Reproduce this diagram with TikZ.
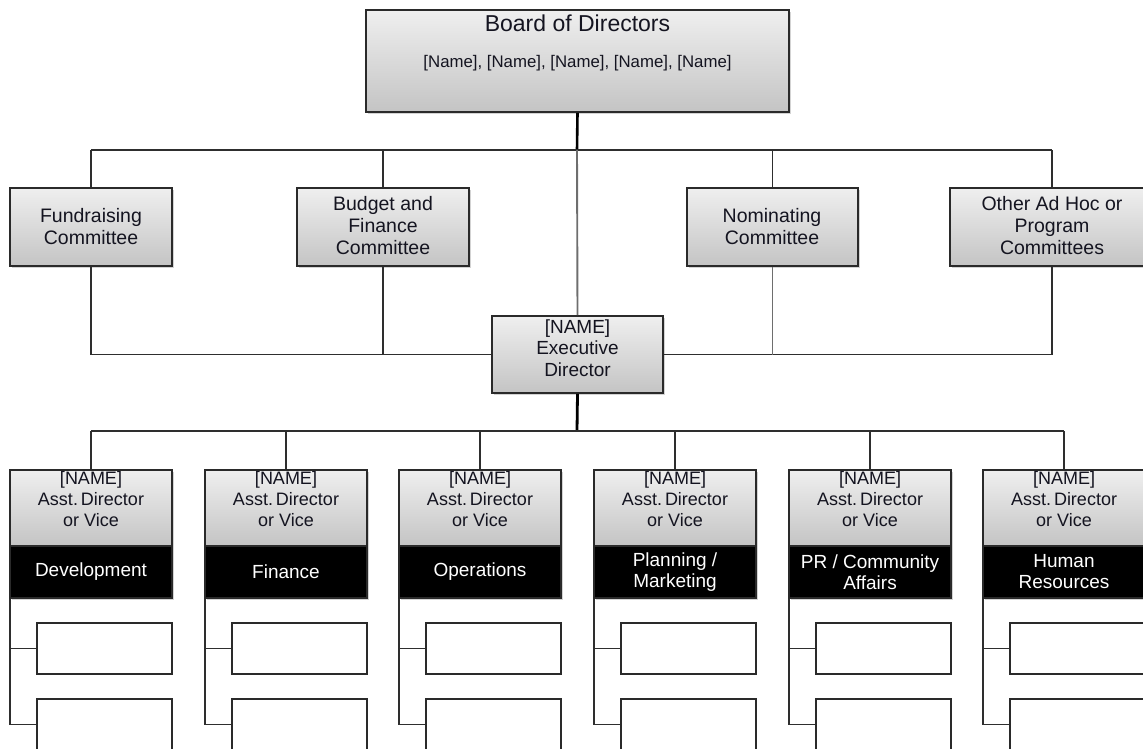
\documentclass[tikz,border=0pt]{standalone}
\usepackage{fontspec}
\setmainfont{Liberation Sans}
\usetikzlibrary{shadows}
\definecolor{txtc}{HTML}{141420}
\definecolor{edgec}{HTML}{2A2A2A}
\definecolor{linec}{HTML}{2E2E2E}
\definecolor{lgline}{HTML}{6E6E6E}
\definecolor{shtop}{HTML}{EFEFEF}
\definecolor{shbot}{HTML}{C4C4C4}
\tikzset{
  gbox/.style={draw=edgec, line width=1.6pt, top color=shtop, bottom color=shbot,
    drop shadow={shadow xshift=2pt, shadow yshift=-2pt, opacity=0.35, fill=gray},
    inner sep=0pt},
  kbox/.style={draw=edgec, line width=1.6pt, fill=black,
    drop shadow={shadow xshift=2pt, shadow yshift=-2pt, opacity=0.35, fill=gray},
    inner sep=0pt},
  wbox/.style={draw=edgec, line width=1.5pt, fill=white, inner sep=0pt,
    minimum width=135pt, minimum height=51pt},
  ctxt/.style={align=center, text=txtc, inner sep=0pt, font=\fontsize{19.5}{22}\selectfont},
  atxt/.style={align=center, text=txtc, inner sep=0pt, font=\fontsize{18}{21}\selectfont},
  btxt/.style={align=center, text=white, inner sep=0pt, font=\fontsize{19}{21}\selectfont},
  conn/.style={draw=linec, line width=1.6pt},
  connl/.style={draw=lgline, line width=1.9pt},
  thick1/.style={draw=black, line width=2.8pt},
  commbox/.style={gbox, minimum height=78pt},
  abox/.style={gbox, minimum width=162pt, minimum height=76pt},
  bbox/.style={kbox, minimum width=162pt, minimum height=52pt},
}
\begin{document}
\begin{tikzpicture}[x=1pt,y=-1pt]
\useasboundingbox (0,0) rectangle (1143,748);
\clip (0,0) rectangle (1143,748);

% Board
\node[gbox, minimum width=423pt, minimum height=102pt] (board) at (577.5,61) {};
\node[text=txtc, inner sep=0pt, font=\fontsize{23}{26}\selectfont] (boardt) at (577.5,23) {Board of Directors};
\node[text=txtc, inner sep=0pt, font=\fontsize{16.8}{20}\selectfont] (boardn) at (577.5,63) {[Name], [Name], [Name], [Name], [Name]};

% Committees
\node[commbox, minimum width=162pt] (fund) at (91,227) {};
\node[ctxt] (fundt) at (91,227) {Fundraising\\Committee};
\node[commbox, minimum width=172pt] (budget) at (383,227) {};
\node[ctxt] (budgett) at (383,226) {Budget and\\Finance\\Committee};
\node[commbox, minimum width=171pt] (nom) at (772.5,227) {};
\node[ctxt] (nomt) at (772,227) {Nominating\\Committee};
\node[commbox, minimum width=204pt] (other) at (1052,227) {};
\node[ctxt] (othert) at (1052,226) {Other Ad Hoc or\\Program\\Committees};

% Executive director
\node[gbox, minimum width=171pt, minimum height=77pt] (exec) at (577.5,354.5) {};
\node[ctxt, font=\fontsize{19}{21.5}\selectfont] (exect) at (577.5,348) {[NAME]\\Executive\\Director};

\coordinate (tb) at (577,150);
\coordinate (mb) at (577,431);

% connectors top
\draw[thick1, line width=2.6pt] (board.south) -- (tb);
\draw[conn] (fund.north |- tb) -- (other.north |- tb);
\draw[conn] (fund.north) -- (fund.north |- tb);
\draw[conn] (budget.north) -- (budget.north |- tb);
\draw[conn] (nom.north) -- (nom.north |- tb);
\draw[conn] (other.north) -- (other.north |- tb);
\draw[connl] (tb) -- (exec.north);
\draw[conn] (fund.south) |- (exec.west);
\draw[conn] (budget.south) -- (budget.south |- exec.west);
\draw[conn] (other.south) |- (exec.east);
\draw[connl] (nom.south) -- (nom.south |- exec.east);
\draw[thick1] (exec.south) -- (mb);

% Assistant directors
\foreach \i/\cx/\dept in {1/91/Development, 2/286/Finance, 3/480/Operations,
   4/675/{Planning /\\Marketing}, 5/870/{PR / Community\\Affairs}, 6/1064/{Human\\Resources}} {
  \node[abox] (a\i) at (\cx,508) {};
  \node[atxt] (a\i t) at (\cx,499) {[NAME]\\Asst.\,Director\\or Vice};
  \node[bbox] (b\i) at (\cx,572) {};
  \node[btxt] (b\i t) at (\cx,572) {\dept};
  \node[wbox] (s\i a) at (\cx+13.5,648.5) {};
  \node[wbox] (s\i b) at (\cx+13.5,724.5) {};
  \coordinate (v\i) at ([xshift=1pt]b\i.south west);
  \draw[conn] (a\i.north) -- (a\i.north |- mb);
  \draw[conn] (v\i) |- (s\i b.west);
  \draw[conn] (s\i a.west) -- (s\i a.west -| v\i);
}
\draw[conn] (a1.north |- mb) -- (a6.north |- mb);
\end{tikzpicture}
\end{document}
